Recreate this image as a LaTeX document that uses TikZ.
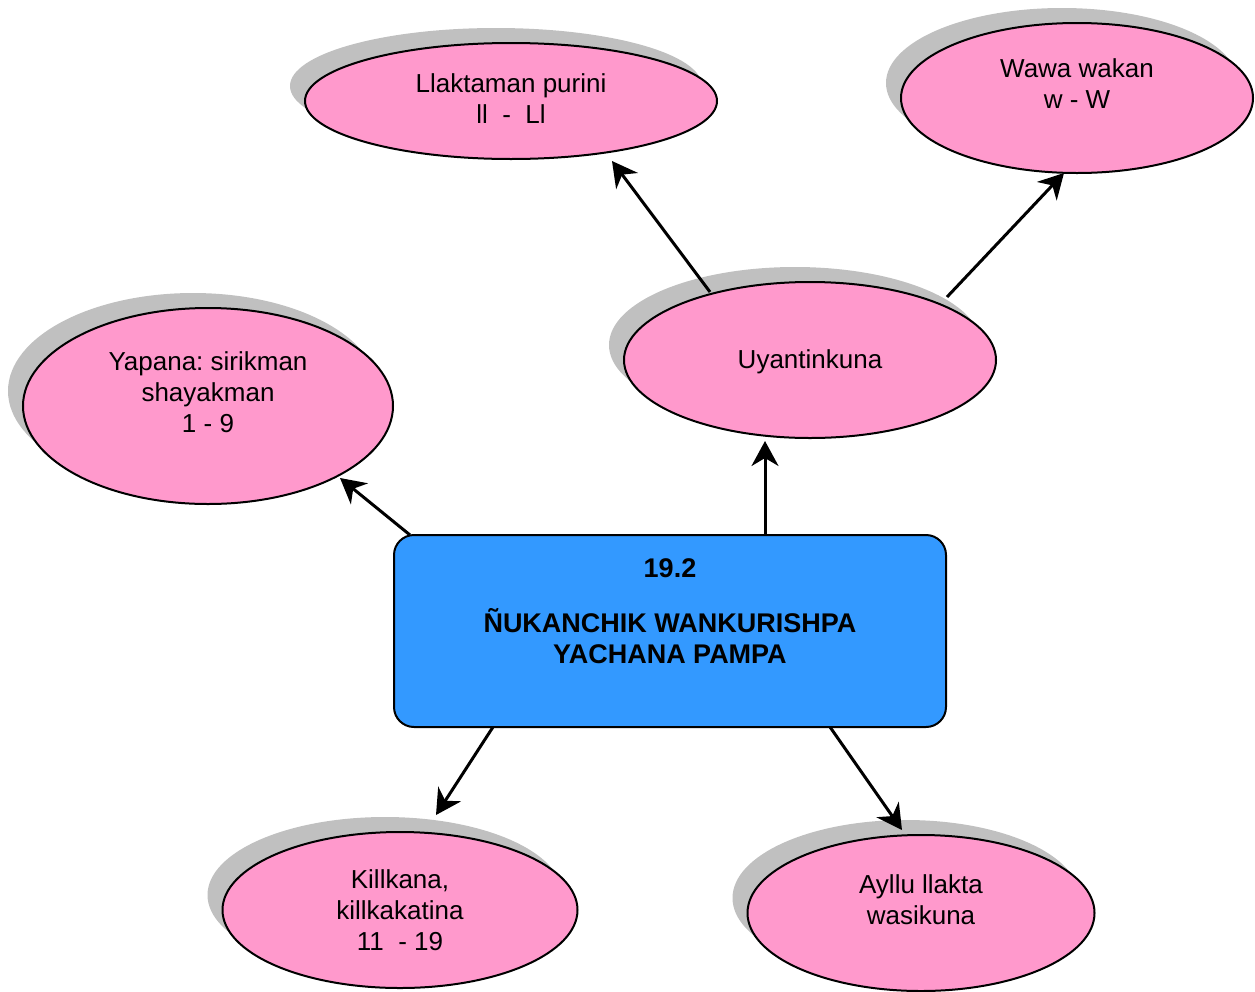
\documentclass[tikz,border=0pt]{standalone}
\usepackage{fontspec}
\setmainfont{Liberation Sans}
\usetikzlibrary{shapes.geometric,shadows,arrows.meta,calc}
\frenchspacing
\definecolor{pinkfill}{HTML}{FF99CC}
\definecolor{bluefill}{HTML}{3399FF}
\definecolor{shadowgray}{HTML}{C0C0C0}
\tikzset{
  oval/.style={ellipse, draw=black, line width=2pt, fill=pinkfill, inner sep=0pt,
    general shadow={fill=shadowgray, shadow xshift=-15pt, shadow yshift=15pt}},
  lbl/.style={align=center, font=\fontsize{26}{31}\selectfont, inner sep=0pt},
  mainbox/.style={rectangle, rounded corners=20pt, draw=black, line width=2pt, fill=bluefill,
    minimum width=552pt, minimum height=192pt, inner sep=0pt},
  arr/.style={line width=3pt, -{Stealth[length=25pt,width=27pt,inset=8pt]}}
}
\begin{document}
\begin{tikzpicture}[x=1pt,y=-1pt]
\useasboundingbox (0,0) rectangle (1255,991);

\node[oval, minimum width=412pt, minimum height=116pt,
  label={[lbl,yshift=2pt]center:{Llaktaman purini\\ll\ \ -\ \ Ll}}] (ll) at (511,101) {};
\node[oval, minimum width=352pt, minimum height=150pt,
  label={[lbl,yshift=14pt]center:{Wawa wakan\\w - W}}] (ww) at (1077,98) {};
\node[oval, minimum width=370pt, minimum height=196pt,
  label={[lbl,yshift=14pt]center:{Yapana: sirikman\\shayakman\\1 - 9}}] (yp) at (208,406) {};
\node[oval, minimum width=372pt, minimum height=156pt,
  label={[lbl,yshift=-2pt]center:{Uyantinkuna}}] (uy) at (810,360) {};
\node[oval, minimum width=355pt, minimum height=156pt,
  label={[lbl]center:{Killkana,\\killkakatina\\11\ \ - 19}}] (kk) at (400,910) {};
\node[oval, minimum width=347pt, minimum height=156pt,
  label={[lbl,yshift=13pt]center:{Ayllu llakta\\wasikuna}}] (ay) at (921,913) {};

\node[mainbox, label={[lbl,font=\fontsize{27}{31}\selectfont\bfseries,yshift=20pt]center:{19.2\\[24pt]ÑUKANCHIK WANKURISHPA\\YACHANA PAMPA}}] (R) at (670,631) {};

\draw[arr] ($(R.center)+(-260,-96)$) -- ($(yp.center)+(132,72)$);
\draw[arr] ($(R.center)+(95,-96)$) -- ($(uy.center)+(-45,81)$);
\draw[arr] ($(uy.center)+(-100,-68)$) -- ($(ll.center)+(101,60)$);
\draw[arr] ($(uy.center)+(137,-63)$) -- ($(ww.center)+(-13,75)$);
\draw[arr] ($(R.center)+(-177,96)$) -- ($(kk.center)+(36,-95)$);
\draw[arr] ($(R.center)+(160,96)$) -- ($(ay.center)+(-19,-83)$);
\end{tikzpicture}
\end{document}
